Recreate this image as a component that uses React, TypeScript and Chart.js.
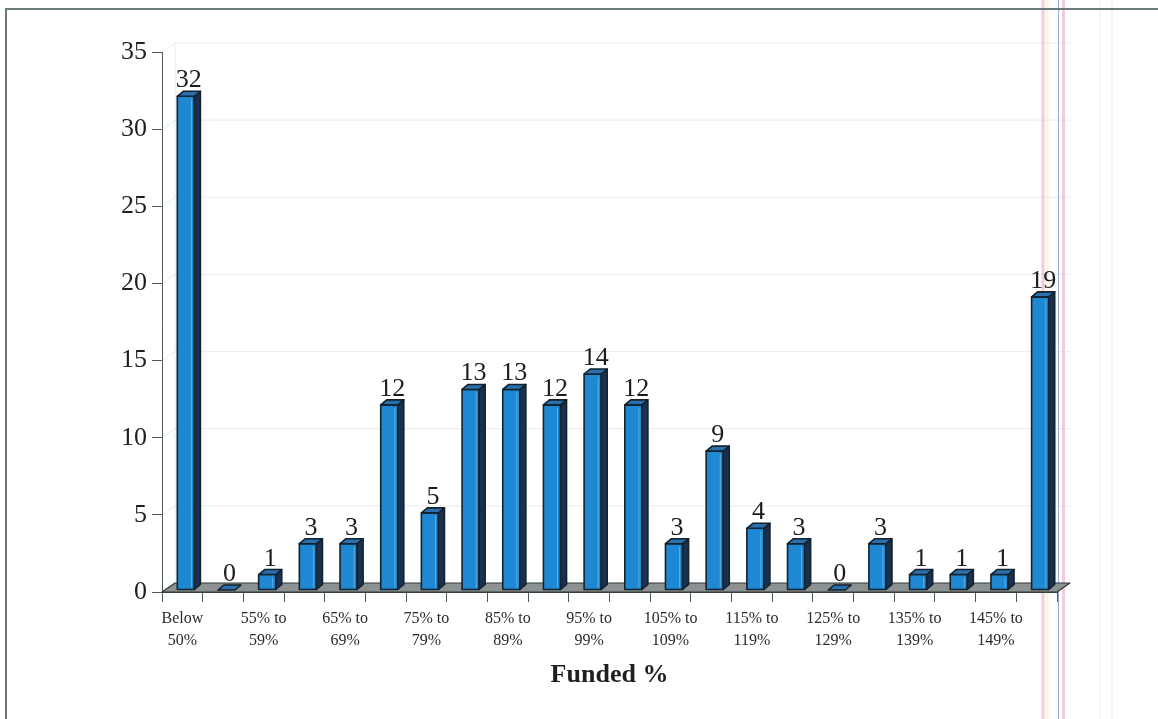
import { useEffect, useRef } from 'react';
import { Chart, registerables } from 'chart.js';

Chart.register(...registerables);

// Funding bands (two-line category labels)
const categories: string[][] = [
  ['Below', '50%'],
  ['50% to', '54%'],
  ['55% to', '59%'],
  ['60% to', '64%'],
  ['65% to', '69%'],
  ['70% to', '74%'],
  ['75% to', '79%'],
  ['80% to', '84%'],
  ['85% to', '89%'],
  ['90% to', '94%'],
  ['95% to', '99%'],
  ['100% to', '104%'],
  ['105% to', '109%'],
  ['110% to', '114%'],
  ['115% to', '119%'],
  ['120% to', '124%'],
  ['125% to', '129%'],
  ['130% to', '134%'],
  ['135% to', '139%'],
  ['140% to', '144%'],
  ['145% to', '149%'],
  ['150% and', 'above'],
];

// Number of plans in each band
const counts: number[] = [32, 0, 1, 3, 3, 12, 5, 13, 13, 12, 14, 12, 3, 9, 4, 3, 0, 3, 1, 1, 1, 19];

const valueTicks: number[] = [0, 5, 10, 15, 20, 25, 30, 35];

const axisTitle = 'Funded %';

const SERIF = '"Liberation Serif", "Times New Roman", "DejaVu Serif", serif';

// 3D geometry (pixels)
const WALL_DX = 13;
const WALL_DY = -9;
const BAR_SHIFT_X = 3.5;
const BAR_SHIFT_Y = -2;
const BAR_DX = 6;
const BAR_DY = -5;

const EDGE = '#15212b';
const FRONT = '#1e88d2';
const SIDE = '#173250';
const TOP = '#2a6fae';

const poly = (ctx: CanvasRenderingContext2D, pts: number[][], fill: string, stroke: string, lw: number) => {
  ctx.beginPath();
  ctx.moveTo(pts[0][0], pts[0][1]);
  for (let i = 1; i < pts.length; i++) ctx.lineTo(pts[i][0], pts[i][1]);
  ctx.closePath();
  ctx.fillStyle = fill;
  ctx.fill();
  ctx.lineWidth = lw;
  ctx.strokeStyle = stroke;
  ctx.lineJoin = 'round';
  ctx.stroke();
};

const scanFrame = {
  id: 'scanFrame',
  beforeDraw(chart: any) {
    const ctx = chart.ctx as CanvasRenderingContext2D;
    const { width, height } = chart;
    ctx.save();
    ctx.fillStyle = '#ffffff';
    ctx.fillRect(0, 0, width, height);
    // faint vertical streaks on the right
    const streaks: [number, number, string][] = [
      [1043, 3, 'rgba(235,160,185,0.55)'],
      [1047, 3, 'rgba(245,225,170,0.35)'],
      [1058.5, 1, 'rgba(110,140,215,0.75)'],
      [1063.5, 3, 'rgba(235,160,185,0.55)'],
      [1100, 2, 'rgba(240,215,225,0.3)'],
      [1112, 2, 'rgba(240,215,225,0.3)'],
    ];
    streaks.forEach(([x, w, c]) => {
      ctx.fillStyle = c;
      ctx.fillRect(x - w / 2, 0, w, height);
    });
    // border
    ctx.strokeStyle = '#6a7a78';
    ctx.lineWidth = 2;
    ctx.beginPath();
    ctx.moveTo(6, height);
    ctx.lineTo(6, 9);
    ctx.lineTo(width, 9);
    ctx.stroke();
    ctx.restore();
  },
  beforeDatasetsDraw(chart: any) {
    const ctx = chart.ctx as CanvasRenderingContext2D;
    const { left, right, bottom } = chart.chartArea;
    const y = chart.scales.y;
    ctx.save();
    // back wall and side wall gridlines
    ctx.strokeStyle = 'rgba(200,205,210,0.4)';
    ctx.lineWidth = 1;
    valueTicks.forEach((v) => {
      if (v === 0) return;
      const py = y.getPixelForValue(v);
      ctx.beginPath();
      ctx.moveTo(left, py);
      ctx.lineTo(left + WALL_DX, py + WALL_DY);
      ctx.lineTo(right + WALL_DX, py + WALL_DY);
      ctx.stroke();
    });
    ctx.beginPath();
    ctx.moveTo(left + WALL_DX, bottom + WALL_DY);
    ctx.lineTo(left + WALL_DX, y.getPixelForValue(35) + WALL_DY);
    ctx.stroke();
    // floor
    poly(
      ctx,
      [
        [left, bottom],
        [right, bottom],
        [right + WALL_DX, bottom + WALL_DY],
        [left + WALL_DX, bottom + WALL_DY],
      ],
      '#8c9292',
      '#2c3838',
      1.2
    );
    ctx.restore();
  },
  afterDatasetsDraw(chart: any) {
    const ctx = chart.ctx as CanvasRenderingContext2D;
    const meta = chart.getDatasetMeta(0);
    ctx.save();
    meta.data.forEach((bar: any, i: number) => {
      const w = bar.width;
      const x0 = bar.x - w / 2 + BAR_SHIFT_X;
      const x1 = x0 + w;
      const yt = bar.y + BAR_SHIFT_Y;
      const yb = bar.base + BAR_SHIFT_Y;
      if (yb - yt > 0.5) {
        poly(ctx, [[x0, yb], [x1, yb], [x1, yt], [x0, yt]], FRONT, EDGE, 1.6);
        poly(ctx, [[x1, yb], [x1 + BAR_DX, yb + BAR_DY], [x1 + BAR_DX, yt + BAR_DY], [x1, yt]], SIDE, EDGE, 1.6);
        // light streak on the front face
        ctx.strokeStyle = 'rgba(150,205,240,0.55)';
        ctx.lineWidth = 1;
        ctx.beginPath();
        ctx.moveTo(x1 - 3, yt + 3);
        ctx.lineTo(x1 - 3, yb - 2);
        ctx.stroke();
      }
      poly(ctx, [[x0, yt], [x1, yt], [x1 + BAR_DX, yt + BAR_DY], [x0 + BAR_DX, yt + BAR_DY]], TOP, EDGE, 1.6);
      // value label
      ctx.fillStyle = '#1c1c1c';
      ctx.font = `26px ${SERIF}`;
      ctx.textAlign = 'center';
      ctx.textBaseline = 'alphabetic';
      ctx.fillText(String(counts[i]), (x0 + x1 + BAR_DX) / 2, yt + BAR_DY - 4);
    });
    ctx.restore();
  },
};

export default function App() {
  const canvasRef = useRef<HTMLCanvasElement | null>(null);

  useEffect(() => {
    if (!canvasRef.current) return;
    const chart = new Chart(canvasRef.current, {
      type: 'bar',
      data: {
        labels: categories,
        datasets: [
          {
            data: counts,
            backgroundColor: 'rgba(0,0,0,0)',
            borderWidth: 0,
            barPercentage: 0.42,
            categoryPercentage: 1,
          },
        ],
      },
      options: {
        animation: false,
        responsive: false,
        devicePixelRatio: 1,
        layout: { padding: { top: 52, right: 101, left: 0, bottom: 0 } },
        plugins: {
          legend: { display: false },
          tooltip: { enabled: false },
        },
        scales: {
          x: {
            offset: true,
            grid: { drawOnChartArea: false, drawTicks: true, tickLength: 10, color: '#4d5b57', offset: true },
            border: { display: true, color: '#3d4a47' },
            ticks: {
              autoSkip: false,
              maxRotation: 0,
              padding: 6,
              color: '#2a2a2a',
              font: { family: SERIF, size: 16, lineHeight: 1.35 },
              callback: (_v: any, i: number) => (i % 2 === 0 ? categories[i] : ''),
            },
            title: {
              display: true,
              text: axisTitle,
              color: '#1f1f1f',
              font: { family: SERIF, size: 26, weight: 'bold', lineHeight: 1.2 },
              padding: { top: 0, bottom: 28 },
            },
            afterFit: (scale: any) => {
              scale.height = 127;
            },
          },
          y: {
            min: 0,
            max: 35,
            grid: { drawOnChartArea: false, drawTicks: true, tickLength: 10, color: '#4d5b57' },
            border: { display: true, color: '#4d5b57' },
            ticks: {
              stepSize: 5,
              padding: 5,
              color: '#1f1f1f',
              font: { family: SERIF, size: 26 },
            },
            afterFit: (scale: any) => {
              scale.width = 162;
            },
          },
        },
      },
      plugins: [scanFrame],
    } as any);
    return () => chart.destroy();
  }, []);

  return (
    <div style={{ position: 'absolute', left: 0, top: 0, width: 1158, height: 719, background: '#fff' }}>
      <canvas ref={canvasRef} width={1158} height={719} style={{ display: 'block' }} />
    </div>
  );
}
